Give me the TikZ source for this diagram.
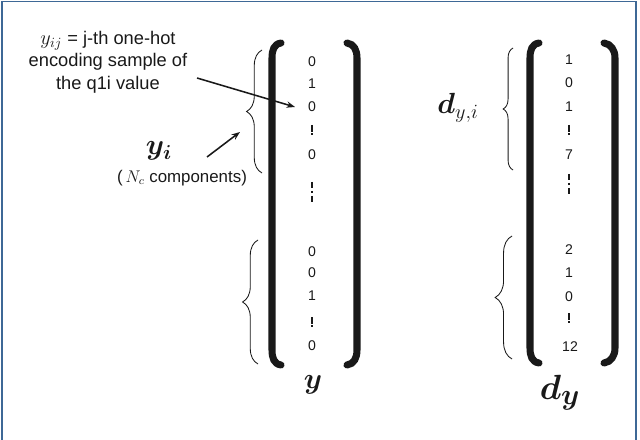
\documentclass[tikz,border=0pt]{standalone}
\usepackage{amsmath}
\usepackage{fontspec}
\setmainfont{Liberation Sans}
\usetikzlibrary{decorations.pathreplacing,arrows.meta}
\definecolor{framec}{RGB}{62,104,150}
\definecolor{ink}{RGB}{25,25,25}
\tikzset{
  bracket/.style={draw=ink,line width=5pt,line cap=round},
  num/.style={inner sep=0pt,font=\fontsize{10}{12}\selectfont,text=ink},
  vd/.style={draw=ink,line width=1.5pt},
  bracecurl/.style={draw=ink,line width=0.6pt,decorate,decoration={brace,amplitude=#1}},
  arr/.style={draw=ink,line width=1.1pt,-{Stealth[length=6pt,width=4.5pt]}},
  lbl/.style={inner sep=0pt,text=ink},
}
\begin{document}
\begin{tikzpicture}[x=0.025cm,y=-0.025cm]
\useasboundingbox (0,0) rectangle (640,440);
% frame
\draw[framec,line width=1.4pt] (2,445) -- (2,1.5) -- (636,1.5) -- (636,445);

% brackets of y
\draw[bracket] (281,43) .. controls (274,44) and (272,50) .. (272,58) -- (272,350) .. controls (272,358) and (274,364) .. (281,365);
\draw[bracket] (347,43) .. controls (354,44) and (357,50) .. (357,58) -- (357,350) .. controls (357,358) and (354,364) .. (347,365);
% brackets of d_y
\draw[bracket] (539,43) .. controls (532,44) and (530,50) .. (530,58) -- (530,348) .. controls (530,356) and (532,362) .. (539,363);
\draw[bracket] (604,43) .. controls (611,44) and (615,50) .. (615,58) -- (615,348) .. controls (615,356) and (611,362) .. (604,363);

% entries of y
\node[num] (l1) at (312,62) {0};
\node[num] (l2) at (312,84) {1};
\node[num] (l3) at (312,107) {0};
\node[num] (l4) at (312,155) {0};
\node[num] (l5) at (312,252) {0};
\node[num] (l6) at (312,273) {0};
\node[num] (l7) at (312,296) {1};
\node[num] (l8) at (312,346) {0};
\draw[vd,dash pattern=on 5pt off 0.9pt on 1.5pt] (312,125) -- (312,136);
\draw[vd,dash pattern=on 4.3pt off 2pt on 1.6pt off 2pt on 4.3pt] (312,182) -- (312,204);
\draw[vd,dash pattern=on 5pt off 0.9pt on 1.5pt] (312,317) -- (312,328);

% entries of d_y
\node[num] (r1) at (569,60) {1};
\node[num] (r2) at (569,83) {0};
\node[num] (r3) at (569,107) {1};
\node[num] (r4) at (569,155) {7};
\node[num] (r5) at (569,250) {2};
\node[num] (r6) at (569,273) {1};
\node[num] (r7) at (569,297) {0};
\node[num] (r8) at (570,347) {12};
\draw[vd,dash pattern=on 5pt off 0.9pt on 1.5pt] (569,125) -- (569,136);
\draw[vd,dash pattern=on 4.3pt off 2pt on 1.6pt off 2pt on 4.3pt] (569,174) -- (569,200);
\draw[vd,dash pattern=on 5pt off 0.9pt on 1.5pt] (569,313) -- (569,324);

% braces
\draw[bracecurl=11pt] (262,173) -- (262,50);
\draw[bracecurl=11pt] (258,364) -- (258,240);
\draw[bracecurl=7pt] (513,170) -- (513,48);
\draw[bracecurl=12pt] (512,359) -- (512,236);

% labels
\node[lbl,align=center,font=\fontsize{13}{16}\selectfont] (def) at (108,62) {{\fontsize{14.4}{16}\selectfont$y_{ij}$} = j-th one-hot\\encoding sample of\\the q1i value};
\node[lbl,font=\fontsize{20.74}{22}\selectfont] (yi) at (159,151) {$\boldsymbol{y_i}$};
\node[lbl,font=\fontsize{12}{14}\selectfont] (nc) at (182,178) {(\,$N_c$ components)};
\node[lbl,font=\fontsize{20.74}{24}\selectfont] (dyi) at (458,108) {$\boldsymbol{d}_{y,i}$};
\node[lbl,font=\fontsize{20.74}{22}\selectfont] (ylab) at (313,385) {$\boldsymbol{y}$};
\node[lbl,font=\fontsize{24.88}{26}\selectfont] (dylab) at (560,393) {$\boldsymbol{d_y}$};

% arrows
\coordinate (a1s) at (197,78);
\coordinate (a1e) at (295,107);
\coordinate (a2s) at (207,157);
\coordinate (a2e) at (240,132);
\draw[arr] (a1s) -- (a1e);
\draw[arr] (a2s) -- (a2e);
\end{tikzpicture}
\end{document}
